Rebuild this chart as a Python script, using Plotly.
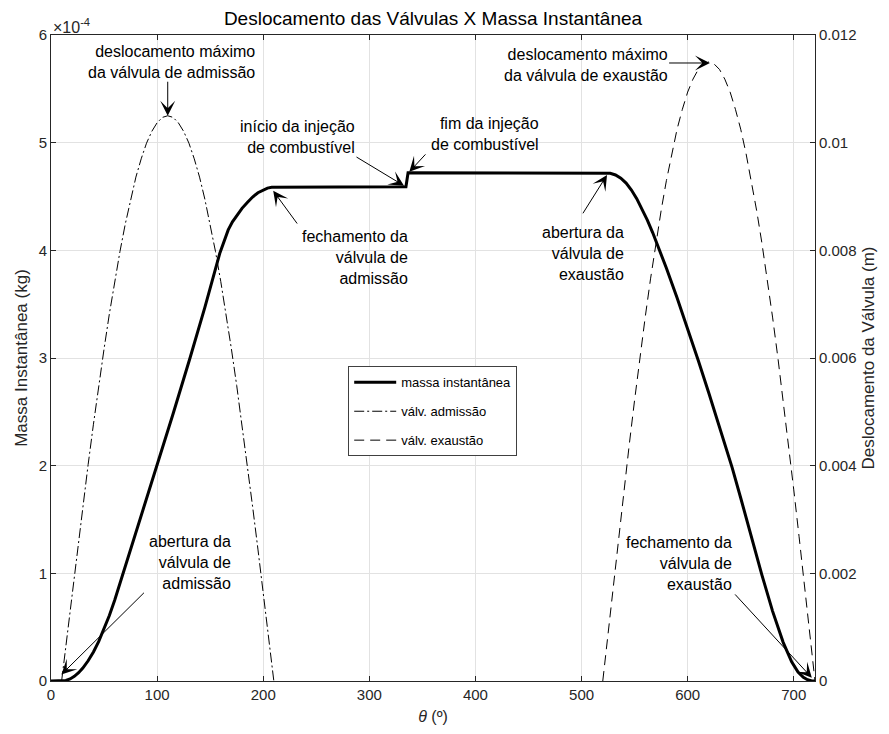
import plotly.graph_objects as go

# Instantaneous in-cylinder mass (units of 1e-4 kg) vs crank angle (deg)
theta_mass = [0, 10, 14, 18, 22, 26, 30, 35, 40, 45, 50, 55, 60, 67, 75, 85, 100,
              115, 131, 145, 159, 163, 167, 171, 175, 180, 185, 190, 195, 200, 204, 208,
              334.5, 336.5,
              522, 527, 532, 537, 542, 547, 552, 557, 562, 567, 573, 580, 590, 600,
              610, 620, 630, 642, 650, 660, 670, 680, 690, 698, 704, 709, 713, 717, 720]
mass_e4 = [0, 0, 0.005, 0.019, 0.043, 0.077, 0.12, 0.188, 0.27, 0.368, 0.48, 0.608,
           0.75, 0.97, 1.22, 1.535, 2.0,
           2.48, 3.0, 3.47, 3.97, 4.09, 4.19, 4.265, 4.325, 4.39, 4.445, 4.495, 4.535,
           4.563, 4.578, 4.585,
           4.59, 4.72,
           4.72, 4.715, 4.70, 4.67, 4.625, 4.56, 4.48, 4.385, 4.28, 4.165, 4.02, 3.834,
           3.559, 3.274, 2.977, 2.672, 2.362, 1.98, 1.70, 1.34, 0.984, 0.649, 0.359,
           0.179, 0.083, 0.035, 0.012, 0.0, 0.0]

# Intake valve lift (m)
theta_adm = list(range(10, 211, 5))
lift_adm = [0, 0.00082, 0.00164, 0.00245, 0.00324, 0.00402, 0.00477, 0.00549,
            0.00617, 0.00682, 0.00742, 0.00798, 0.00849, 0.00895, 0.00936,
            0.00970, 0.00999, 0.01021, 0.01037, 0.01047, 0.0105,
            0.01047, 0.01037, 0.01021, 0.00999, 0.00970, 0.00936, 0.00895,
            0.00849, 0.00798, 0.00742, 0.00682, 0.00617, 0.00549, 0.00477,
            0.00402, 0.00324, 0.00245, 0.00164, 0.00082, 0]

# Exhaust valve lift (m)
theta_exh = list(range(520, 721, 5))
lift_exh = [0, 0.00090, 0.00180, 0.00268, 0.00355, 0.00440, 0.00522, 0.00601,
            0.00676, 0.00747, 0.00813, 0.00874, 0.00930, 0.00980, 0.01025,
            0.01062, 0.01094, 0.01118, 0.01136, 0.01146, 0.0115,
            0.01146, 0.01136, 0.01118, 0.01094, 0.01062, 0.01025, 0.00980,
            0.00930, 0.00874, 0.00813, 0.00747, 0.00676, 0.00601, 0.00522,
            0.00440, 0.00355, 0.00268, 0.00180, 0.00090, 0]

x_ticks = [0, 100, 200, 300, 400, 500, 600, 700]
left_ticks = [0, 1, 2, 3, 4, 5, 6]
right_ticks = [0, 0.002, 0.004, 0.006, 0.008, 0.01, 0.012]
right_labels = ["0", "0.002", "0.004", "0.006", "0.008", "0.01", "0.012"]

FONT = "Liberation Sans, Arial, sans-serif"
AX = "#262626"
GRID = "#e2e2e2"

fig = go.Figure()
fig.add_trace(go.Scatter(x=theta_mass, y=mass_e4, mode="lines", name="massa instantânea",
                         line=dict(color="black", width=3), legendgroup="m"))
fig.add_trace(go.Scatter(x=theta_adm, y=lift_adm, mode="lines", name="válv. admissão",
                         line=dict(color="black", width=1, dash="10px,3px,2px,3px"),
                         yaxis="y2", legendgroup="a"))
fig.add_trace(go.Scatter(x=theta_exh, y=lift_exh, mode="lines", name="válv. exaustão",
                         line=dict(color="black", width=1, dash="10px,6px"),
                         yaxis="y2", legendgroup="e"))

# (label, label x, label y, arrow tail x, tail y, arrow head x, head y) in left-axis units
notes = [
    ("deslocamento máximo<br>da válvula de admissão", 194, 5.75, 110, 5.58, 110, 5.25),
    ("início da injeção<br>de combustível", 288.4, 5.05, 286.5, 4.875, 332.7, 4.60),
    ("fim da injeção<br>de combustível", 461.5, 5.085, 354.2, 4.905, 337.7, 4.729),
    ("fechamento da<br>válvula de<br>admissão", 338.4, 3.935, 233, 4.235, 209.4, 4.553),
    ("abertura da<br>válvula de<br>exaustão", 542.2, 3.975, 500.4, 4.33, 524, 4.70),
    ("deslocamento máximo<br>da válvula de exaustão", 583.7, 5.724, 581.1, 5.74, 621, 5.74),
    ("abertura da<br>válvula de<br>admissão", 171.7, 1.102, 89, 0.833, 9.8, 0.06),
    ("fechamento da<br>válvula de<br>exaustão", 644, 1.09, 643.4, 0.818, 717, 0.03),
]
for text, tx, ty, ax_, ay_, hx, hy in notes:
    fig.add_annotation(x=tx, y=ty, xref="x", yref="y", text=text, showarrow=False,
                       xanchor="right", yanchor="middle", align="right",
                       font=dict(family=FONT, size=16, color="black"))
    fig.add_annotation(x=hx, y=hy, xref="x", yref="y", ax=ax_, ay=ay_,
                       axref="x", ayref="y", text="", showarrow=True,
                       arrowhead=3, arrowsize=2.5, arrowwidth=1, arrowcolor="black",
                       standoff=0, startstandoff=0)

# exponent marker of the left axis
fig.add_annotation(x=0, y=1, xref="paper", yref="paper", text="×10<sup>-4</sup>",
                   showarrow=False, xanchor="left", yanchor="bottom",
                   font=dict(family=FONT, size=16, color=AX), yshift=-3)

fig.update_layout(
    width=889, height=734,
    margin=dict(l=51, r=74, t=35, b=53),
    paper_bgcolor="white", plot_bgcolor="white",
    font=dict(family=FONT, size=15, color=AX),
    title=dict(text="Deslocamento das Válvulas X Massa Instantânea",
               x=0.5, xref="paper", xanchor="center",
               y=1 - 18 / 734, yanchor="middle",
               font=dict(family=FONT, size=19, color="black")),
    xaxis=dict(range=[0, 720], tickvals=x_ticks, ticks="inside", ticklen=5,
               tickcolor=AX, showline=True, linecolor=AX, linewidth=1, mirror="ticks",
               showgrid=True, gridcolor=GRID, zeroline=False,
               title=dict(text="<i>θ</i> (º)", font=dict(size=16, color=AX), standoff=8),
               tickfont=dict(size=15, color=AX)),
    yaxis=dict(range=[0, 6], tickvals=left_ticks, ticks="inside", ticklen=5,
               tickcolor=AX, showline=True, linecolor=AX, linewidth=1,
               showgrid=True, gridcolor=GRID, zeroline=False,
               title=dict(text="Massa Instantânea (kg)", font=dict(size=17, color=AX), standoff=6),
               tickfont=dict(size=15, color=AX)),
    yaxis2=dict(range=[0, 0.012], tickvals=right_ticks, ticktext=right_labels,
                overlaying="y", side="right", ticks="inside", ticklen=5,
                tickcolor=AX, showline=True, linecolor=AX, linewidth=1,
                showgrid=False, zeroline=False,
                title=dict(text="Deslocamento da Válvula (m)", font=dict(size=17, color=AX), standoff=6),
                tickfont=dict(size=15, color=AX)),
    legend=dict(x=0.389, y=0.487, xanchor="left", yanchor="top",
                bgcolor="white", bordercolor="#404040", borderwidth=1,
                font=dict(family=FONT, size=13, color="black"),
                tracegroupgap=9, traceorder="grouped", itemwidth=42),
    showlegend=True,
)

fig.write_html("out.html")
